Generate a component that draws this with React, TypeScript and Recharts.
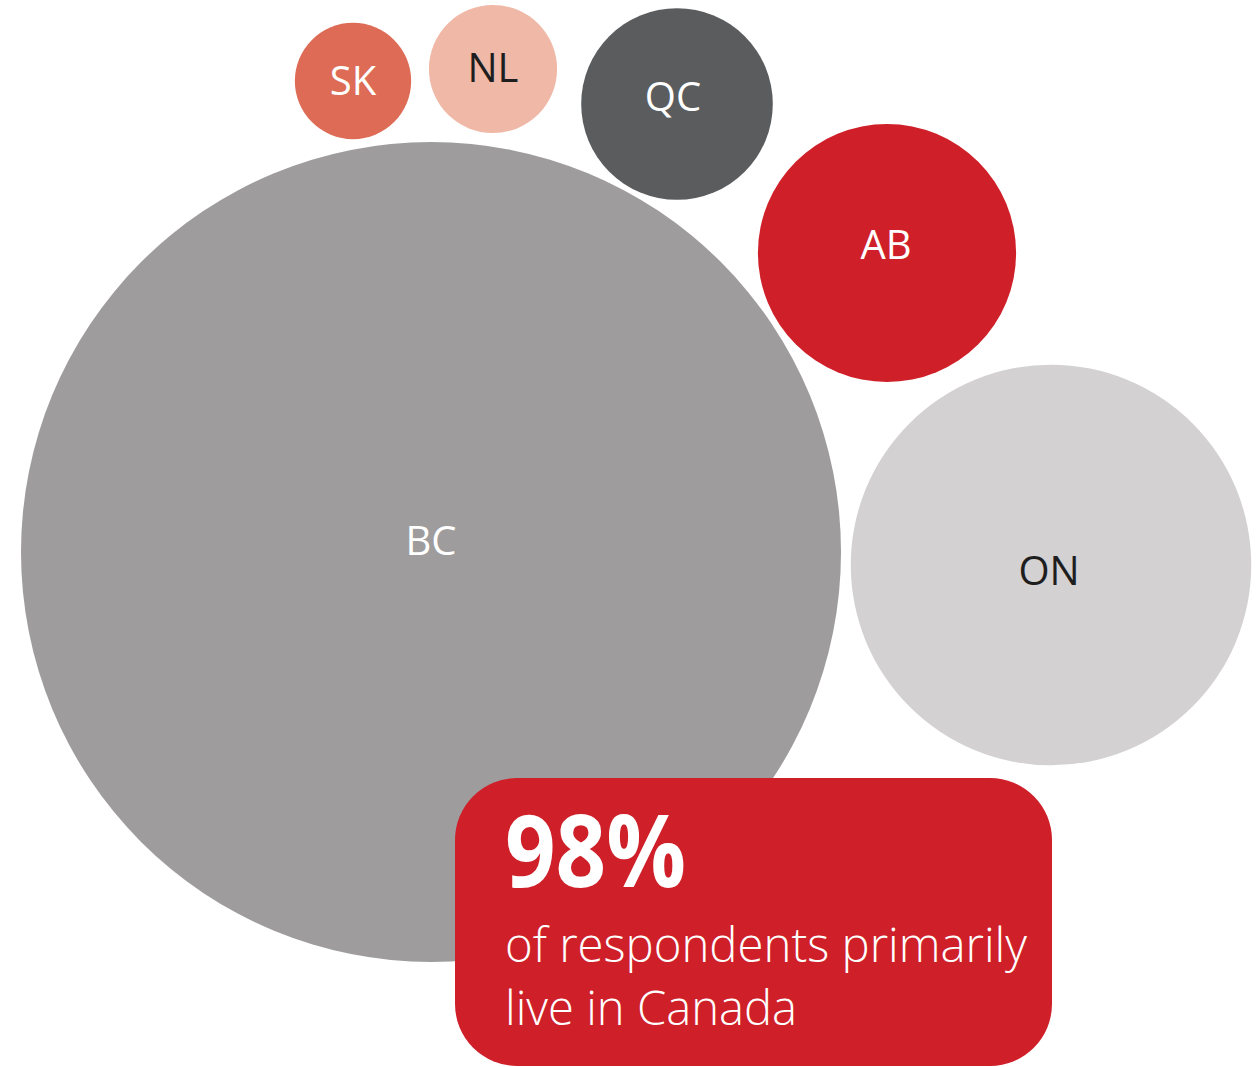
import React from 'react';
import { ScatterChart, Scatter, XAxis, YAxis, ZAxis, Cell } from 'recharts';

// province bubbles: centre position in chart units, z = share of respondents (area)
const provinces = ['SK', 'NL', 'QC', 'AB', 'BC', 'ON'];
const centreX = [353, 493, 677, 887, 431, 1051];
const centreY = [81, 69, 104, 253, 552, 565];
const shares = [1.4, 1.7, 3.8, 6.9, 69.6, 16.6];

const fills = ['#dd6b55', '#f0b8a6', '#5b5c5e', '#cf1f29', '#9e9c9d', '#d3d1d2'];
const labelColors = ['#ffffff', '#1e1e1e', '#ffffff', '#ffffff', '#ffffff', '#1e1e1e'];
const labelNudgeX = [0, 0, -4, -1, 0, -2];
const labelNudgeY = [-2, -3, -9, -10, -13, 4];

const W = 1260;
const H = 1067;
const MAX_R = 410;
const FONT = '"Open Sans", "Noto Sans", sans-serif';

const data = provinces.map((p, i) => ({ name: p, x: centreX[i], y: centreY[i], z: shares[i], i }));
const maxShare = Math.max(...shares);

const Bubble = (props: any) => {
  const { cx, cy, width, payload } = props;
  const r = width / 2;
  const i = payload.i;
  return (
    <g>
      <circle cx={cx} cy={cy} r={r} fill={fills[i]} />
      <text
        x={cx + labelNudgeX[i]}
        y={cy + labelNudgeY[i]}
        textAnchor="middle"
        dominantBaseline="central"
        fontFamily={FONT}
        fontSize={40}
        fill={labelColors[i]}
      >
        {payload.name}
      </text>
    </g>
  );
};

export default function App() {
  return (
    <div style={{ position: 'absolute', left: 0, top: 0, width: W, height: H, background: '#fff' }}>
      <ScatterChart width={W} height={H} margin={{ top: 0, right: 0, bottom: 0, left: 0 }}>
        <XAxis type="number" dataKey="x" domain={[0, W]} hide />
        <YAxis type="number" dataKey="y" domain={[0, H]} reversed hide />
        <ZAxis type="number" dataKey="z" domain={[0, maxShare]} range={[0, Math.PI * MAX_R * MAX_R]} />
        <Scatter data={data} shape={Bubble} isAnimationActive={false}>
          {data.map((d) => (
            <Cell key={d.name} fill={fills[d.i]} />
          ))}
        </Scatter>
      </ScatterChart>
      <svg width={W} height={H} style={{ position: 'absolute', left: 0, top: 0 }}>
        <rect x={455} y={778} width={597} height={288} rx={62} ry={62} fill="#cf1f29" />
        <text x={505} y={887} fontFamily={FONT} fontWeight={700} fontSize={100} fill="#fff" textLength={181} lengthAdjust="spacingAndGlyphs">
          98%
        </text>
        <text x={505} y={962} fontFamily={FONT} fontWeight={300} fontSize={47} fill="#fff" textLength={522} lengthAdjust="spacingAndGlyphs">
          of respondents primarily
        </text>
        <text x={505} y={1025} fontFamily={FONT} fontWeight={300} fontSize={47} fill="#fff" textLength={292} lengthAdjust="spacingAndGlyphs">
          live in Canada
        </text>
      </svg>
    </div>
  );
}
